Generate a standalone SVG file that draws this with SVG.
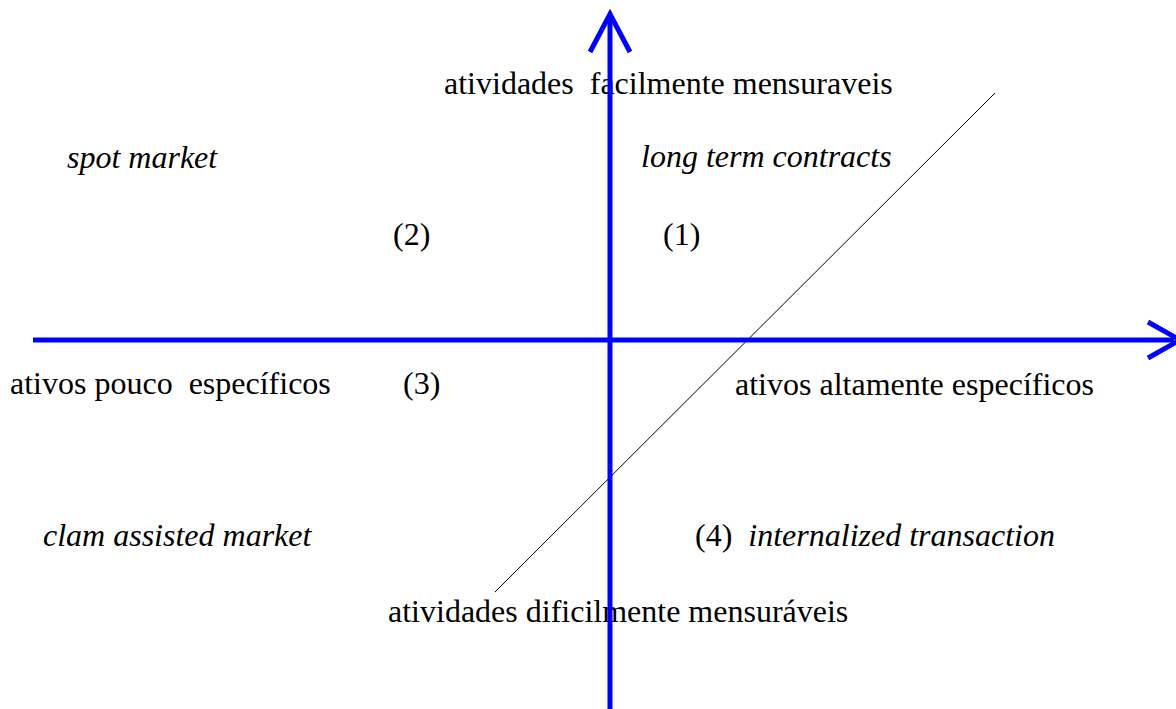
<svg xmlns="http://www.w3.org/2000/svg" width="1176" height="709" viewBox="0 0 1176 709">
<style>
.axis{stroke:#0000ff;stroke-width:5;fill:none;stroke-linecap:butt}
.head{stroke:#0000ff;stroke-width:5;fill:none;stroke-linejoin:miter}
.t{font-family:"Liberation Serif","Times New Roman",serif;font-size:32px;fill:#000}
.i{font-style:italic}
</style>
<rect width="1176" height="709" fill="#fff"/>
<g id="top"><text class="t" x="444" y="94" xml:space="preserve">atividades  facilmente mensuraveis</text></g>
<g id="bottom"><text class="t" x="388" y="622">atividades dificilmente mensuráveis</text></g>
<g id="left"><text class="t" x="10" y="394" xml:space="preserve">ativos pouco  específicos</text></g>
<g id="right"><text class="t" x="735" y="395">ativos altamente específicos</text></g>
<g id="spot"><text class="t i" x="67" y="168">spot market</text></g>
<g id="long"><text class="t i" x="641" y="167">long term contracts</text></g>
<g id="q2"><text class="t" x="393" y="245">(2)</text></g>
<g id="q1"><text class="t" x="663" y="245">(1)</text></g>
<g id="q3"><text class="t" x="403" y="394">(3)</text></g>
<g id="clam"><text class="t i" x="43" y="546">clam assisted market</text></g>
<g id="q4"><text class="t" x="695" y="546" xml:space="preserve">(4)  <tspan class="i">internalized transaction</tspan></text></g>
<g id="connectors">
<line x1="495" y1="592" x2="995" y2="93" stroke="#000" stroke-width="1"/>
<line class="axis" x1="610" y1="709" x2="610" y2="16"/>
<polyline class="head" points="590,52 610,14 630,52"/>
<line class="axis" x1="33" y1="340" x2="1174" y2="340"/>
<polyline class="head" points="1148,322 1180,340 1148,358"/>
</g>
</svg>
